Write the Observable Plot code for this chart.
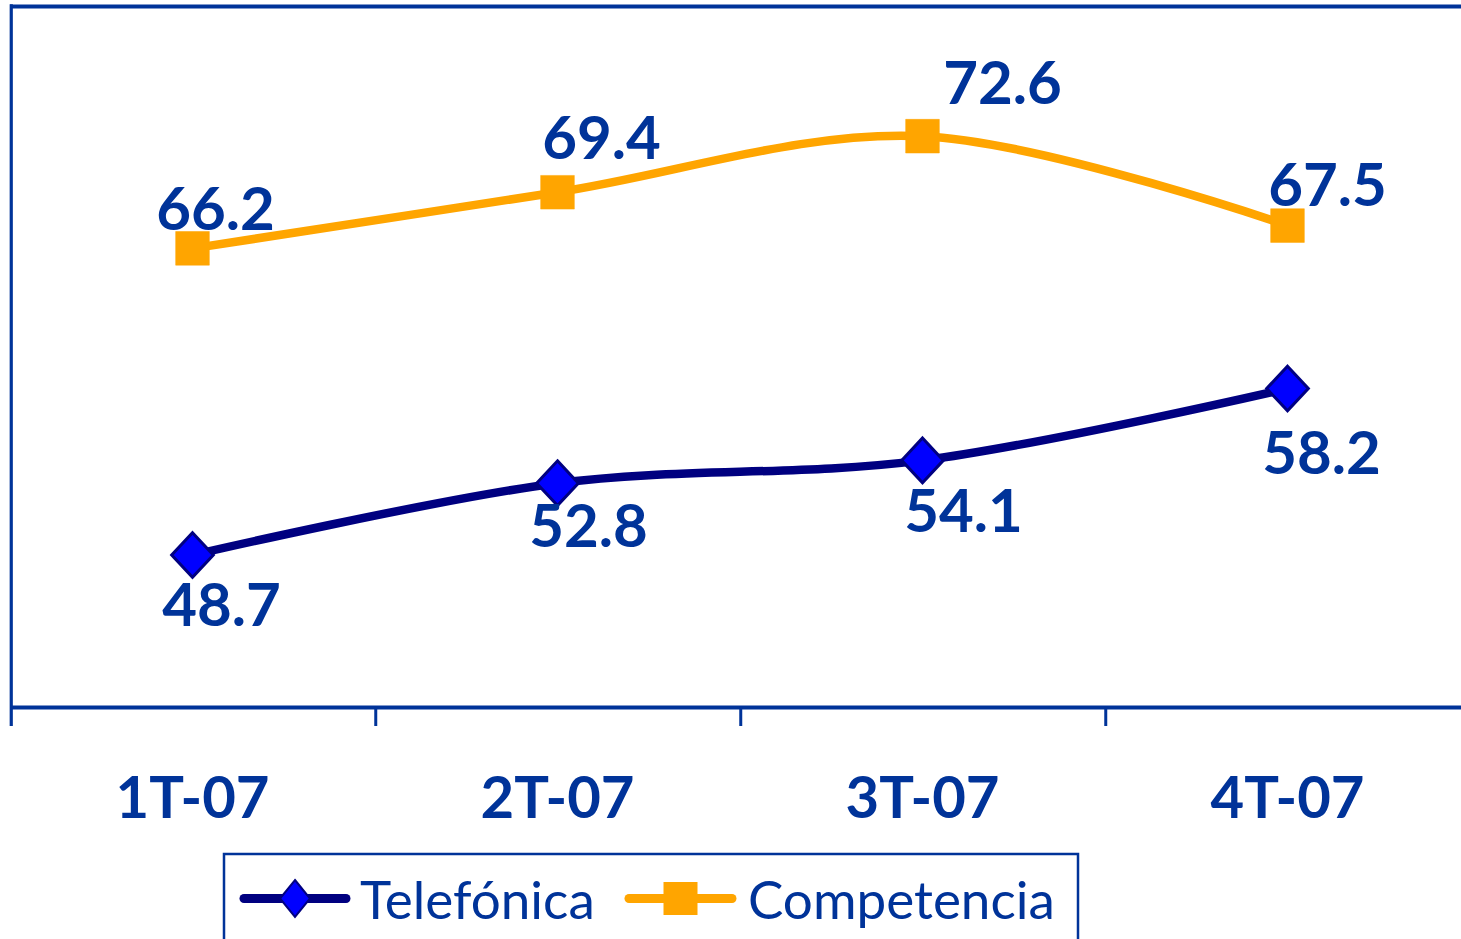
<!DOCTYPE html>
<html><head><meta charset="utf-8">
<script src="https://cdn.jsdelivr.net/npm/d3@7"></script>
<script src="https://cdn.jsdelivr.net/npm/@observablehq/plot@0.6"></script>
<style>
html,body{margin:0;padding:0;overflow:hidden;background:#fff;}
#chart svg,#legend svg{display:block;}
</style></head><body>
<div id="chart"></div><div id="legend"></div>
<script>
// ---- data ----
const quarters = ["1T-07", "2T-07", "3T-07", "4T-07"];
const telefonica = [48.7, 52.8, 54.1, 58.2];
const competencia = [66.2, 69.4, 72.6, 67.5];
const seriesNames = ["Telefónica", "Competencia"];
const yDomain = [40, 80];

// ---- styles ----
const BLUE = "#003399", NAVY = "#000080", MARKER_BLUE = "#0000FF", ORANGE = "#FFA500";
const FONT = "Lato, 'Open Sans', sans-serif";

const tel = quarters.map((q, i) => ({quarter: q, value: telefonica[i], series: seriesNames[0]}));
const comp = quarters.map((q, i) => ({quarter: q, value: competencia[i], series: seriesNames[1]}));

const diamondSym = {draw(ctx, size) {
  const s = Math.sqrt(size), w = s * 0.56, h = s * 0.6;
  ctx.moveTo(0, -h); ctx.lineTo(w, 0); ctx.lineTo(0, h); ctx.lineTo(-w, 0); ctx.closePath();
}};

// label placement (pixel offsets from each marker)
const compOffsets = [[23, -18], [44, -33], [80, -32], [40, -20]];
const telOffsets = [[29, 71], [31, 64], [41, 72], [34, 85]];

const W = 1461, H = 850, X0 = 8.5, X1 = 1470.5;
const step = (X1 - X0) / quarters.length;

const labelMarks = (data, offs) => data.map((d, i) => Plot.text([d], {
  x: "quarter", y: "value", text: d => d.value.toFixed(1),
  dx: offs[i][0], dy: offs[i][1], lineAnchor: "bottom", textAnchor: "middle",
  fontSize: 60, fontWeight: "bold", fill: BLUE
}));

const chart = Plot.plot({
  width: W, height: H,
  marginLeft: 10, marginRight: 0, marginTop: 6, marginBottom: 143,
  style: {fontFamily: FONT, background: "#fff", overflow: "visible"},
  x: {type: "point", domain: quarters, range: [X0, X1], padding: 0.5, axis: null},
  y: {domain: yDomain, axis: null},
  marks: [
    Plot.ruleY([yDomain[1]], {stroke: BLUE, strokeWidth: 3.8}),
    Plot.ruleY([yDomain[0]], {stroke: BLUE, strokeWidth: 4}),
    Plot.ruleX([quarters[0]], {x: d => d, dx: -step / 2 + 1.5, stroke: BLUE, strokeWidth: 3.2, insetTop: -1.8, insetBottom: -19}),
    Plot.ruleX(quarters.slice(1), {x: d => d, dx: -step / 2 + 1, stroke: BLUE, strokeWidth: 3, insetTop: 700, insetBottom: -19}),
    Plot.text(quarters, {x: d => d, frameAnchor: "bottom", dy: 110, lineAnchor: "bottom",
      fontSize: 58, fontWeight: "bold", fill: BLUE}),
    Plot.line(comp, {x: "quarter", y: "value", stroke: ORANGE, strokeWidth: 8.5, curve: "cardinal"}),
    Plot.line(tel, {x: "quarter", y: "value", stroke: NAVY, strokeWidth: 8.5, curve: "cardinal"}),
    Plot.dot(comp, {x: "quarter", y: "value", symbol: "square", r: 19, fill: ORANGE, stroke: ORANGE, strokeWidth: 0.5}),
    Plot.dot(tel, {x: "quarter", y: "value", symbol: diamondSym, r: 21, fill: MARKER_BLUE, stroke: NAVY, strokeWidth: 3}),
    ...labelMarks(comp, compOffsets),
    ...labelMarks(tel, telOffsets)
  ]
});
document.getElementById("chart").appendChild(chart);

// ---- legend (below the chart svg) ----
const lg = d3.select("#legend").append("svg").attr("width", W).attr("height", 89)
  .style("font-family", FONT);
lg.append("rect").attr("x", 224).attr("y", 4).attr("width", 854).attr("height", 200)
  .attr("fill", "none").attr("stroke", BLUE).attr("stroke-width", 2.5);
const items = [
  {name: seriesNames[0], x0: 244, x1: 346, tx: 360, color: NAVY, marker: "diamond"},
  {name: seriesNames[1], x0: 629, x1: 732, tx: 748, color: ORANGE, marker: "square"}
];
const ly = 48.5;
items.forEach(it => {
  lg.append("line").attr("x1", it.x0).attr("x2", it.x1).attr("y1", ly).attr("y2", ly)
    .attr("stroke", it.color).attr("stroke-width", 9).attr("stroke-linecap", "round");
  const cx = (it.x0 + it.x1) / 2;
  if (it.marker === "diamond") {
    lg.append("path").attr("d", `M${cx},${ly - 18.5}L${cx + 15},${ly}L${cx},${ly + 18.5}L${cx - 15},${ly}Z`)
      .attr("fill", MARKER_BLUE).attr("stroke", NAVY).attr("stroke-width", 2);
  } else {
    lg.append("rect").attr("x", cx - 17).attr("y", ly - 16.5).attr("width", 34).attr("height", 33)
      .attr("fill", ORANGE);
  }
  lg.append("text").attr("x", it.tx).attr("y", 69).attr("font-size", 53).attr("fill", BLUE).text(it.name);
});
</script>
</body></html>
